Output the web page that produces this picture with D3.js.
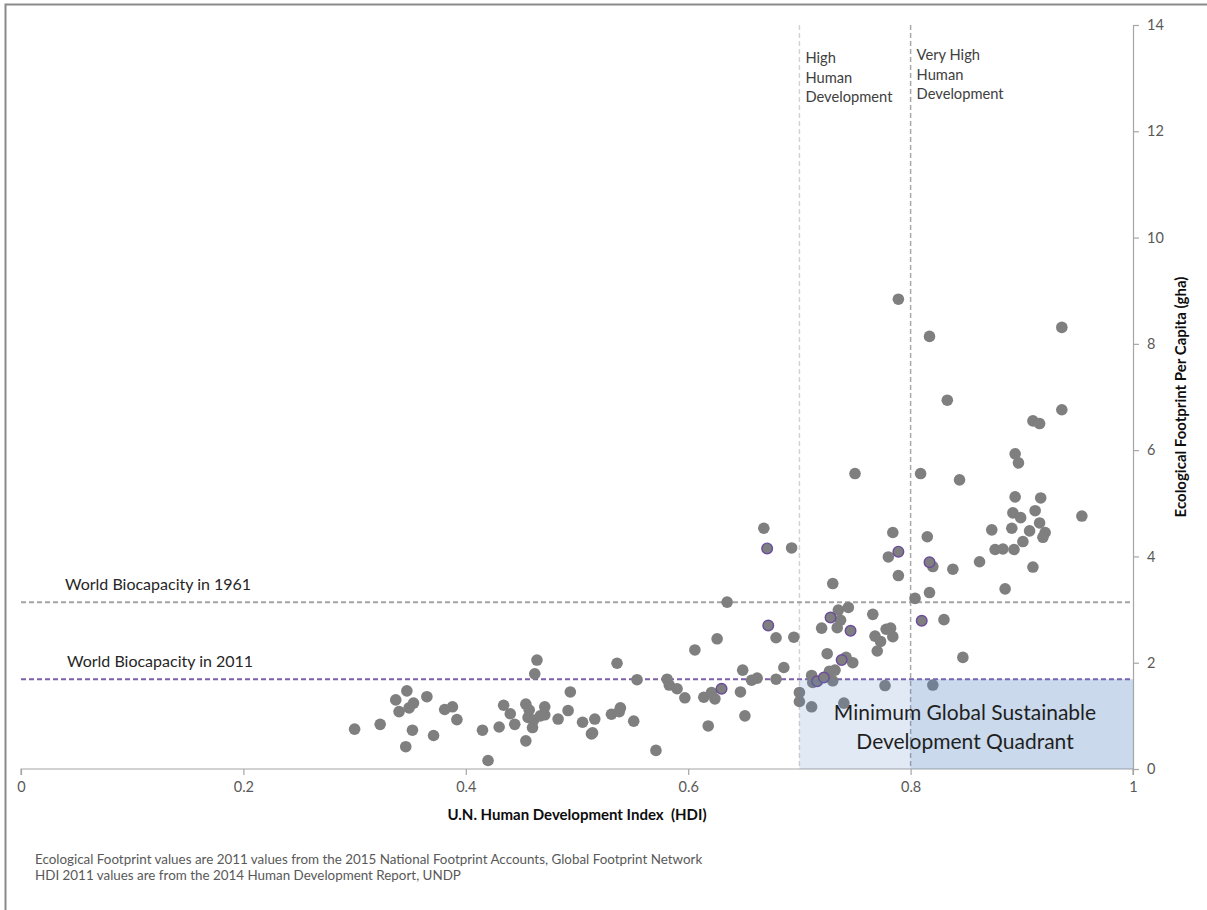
<!DOCTYPE html>
<html>
<head>
<meta charset="utf-8">
<script src="https://cdn.jsdelivr.net/npm/d3@7"></script>
<style>
  body { margin: 0; background: #fff; }
  svg { display: block; font-family: Lato, "Open Sans", sans-serif; }
</style>
</head>
<body>
<svg id="chart" width="1207" height="910"></svg>
<script>
// ---- Data ----
const hdi = [
  0.300,0.323,0.337,0.347,0.340,0.349,0.353,0.352,0.346,0.365,
  0.371,0.381,0.388,0.392,0.415,0.420,0.430,0.434,0.440,0.444,
  0.454,0.457,0.456,0.454,0.460,0.461,0.462,0.464,0.471,0.471,
  0.467,0.483,0.492,0.494,0.505,0.513,0.514,0.516,0.531,0.539,
  0.538,0.536,0.551,0.554,0.571,0.581,0.583,0.590,0.597,0.606,
  0.668,0.693,0.635,0.679,0.695,0.626,0.614,0.621,0.624,0.647,
  0.649,0.657,0.662,0.679,0.686,0.651,0.618,0.700,0.700,0.711,
  0.711,0.730,0.732,0.727,0.725,0.720,0.735,0.744,0.734,0.737,
  0.748,0.730,0.766,0.740,0.712,0.742,
  0.789,0.817,0.936,0.833,0.936,0.910,0.916,0.894,0.897,0.750,
  0.809,0.844,0.894,0.917,0.912,0.892,0.899,0.954,0.873,0.891,
  0.907,0.916,0.921,0.919,0.901,0.876,0.883,0.893,0.862,0.910,
  0.885,0.838,0.815,0.820,0.784,0.780,0.789,0.804,0.817,0.830,
  0.847,0.768,0.773,0.778,0.782,0.784,0.770,0.777,0.820
];
const footprint = [
  0.75,0.84,1.30,1.47,1.08,1.15,1.24,0.73,0.42,1.36,
  0.63,1.12,1.17,0.93,0.73,0.16,0.79,1.20,1.04,0.84,
  1.22,1.11,0.97,0.53,0.78,0.92,1.79,2.05,1.17,1.02,
  1.00,0.94,1.10,1.45,0.88,0.66,0.68,0.94,1.03,1.15,
  1.08,1.99,0.90,1.68,0.35,1.69,1.58,1.51,1.34,2.24,
  4.53,4.16,3.14,2.47,2.48,2.45,1.35,1.44,1.32,1.45,
  1.86,1.67,1.71,1.69,1.91,1.00,0.81,1.44,1.27,1.17,
  1.76,1.66,1.86,1.84,2.17,2.65,2.99,3.04,2.66,2.80,
  2.00,3.49,2.91,1.24,1.63,2.10,
  8.84,8.14,8.31,6.94,6.76,6.55,6.50,5.93,5.76,5.56,
  5.56,5.44,5.12,5.10,4.86,4.82,4.73,4.76,4.50,4.53,
  4.48,4.63,4.45,4.36,4.28,4.13,4.14,4.13,3.90,3.80,
  3.39,3.76,4.37,3.81,4.45,3.99,3.64,3.21,3.32,2.81,
  2.10,2.50,2.40,2.63,2.65,2.49,2.22,1.57,1.58
];
// Points drawn with a purple outline
const hdiHighlight = [0.671,0.672,0.630,0.716,0.722,0.728,0.746,0.738,0.789,0.817,0.810];
const footprintHighlight = [4.15,2.70,1.51,1.65,1.72,2.85,2.60,2.05,4.09,3.89,2.79];

const biocapacityLabels = ["World Biocapacity in 1961", "World Biocapacity in 2011"];
const biocapacityValues = [3.14, 1.69];
const hdiThresholds = [0.7, 0.8];
const thresholdLabels = [["High","Human","Development"], ["Very High","Human","Development"]];
const xTicks = [0, 0.2, 0.4, 0.6, 0.8, 1];
const yTicks = [0, 2, 4, 6, 8, 10, 12, 14];
const quadrantLabel = ["Minimum Global Sustainable", "Development Quadrant"];
const xTitle = "U.N. Human Development Index  (HDI)";
const yTitle = "Ecological Footprint Per Capita (gha)";
const notes = [
  "Ecological Footprint values are 2011 values from the 2015 National Footprint Accounts, Global Footprint Network",
  "HDI 2011 values are from the 2014 Human Development Report, UNDP"
];

// ---- Chart ----
const svg = d3.select("#chart");
const x = d3.scaleLinear().domain([0, 1]).range([21, 1133]);
const y = d3.scaleLinear().domain([0, 14]).range([769, 25]);

// outer frame (top and left)
svg.append("path")
  .attr("d", "M5.5,910 V4.5 H1207")
  .attr("fill", "none").attr("stroke", "#8a8a8a").attr("stroke-width", 2);

// vertical threshold lines
const vColors = ["#d4d4d4", "#a8a8a8"];
svg.selectAll(".vline").data(hdiThresholds).enter().append("line")
  .attr("x1", d => x(d)).attr("x2", d => x(d))
  .attr("y1", y(14)).attr("y2", y(0))
  .attr("stroke", (d, i) => vColors[i]).attr("stroke-width", 1.5)
  .attr("stroke-dasharray", "5,3");

// horizontal biocapacity lines
const hColors = ["#a3a3a3", "#7e5fa8"];
svg.selectAll(".hline").data(biocapacityValues).enter().append("line")
  .attr("x1", x(0)).attr("x2", x(1))
  .attr("y1", d => y(d)).attr("y2", d => y(d))
  .attr("stroke", (d, i) => hColors[i]).attr("stroke-width", 2)
  .attr("stroke-dasharray", "5,3");

// axes
const xAxis = svg.append("g").attr("transform", `translate(0,${y(0)})`)
  .call(d3.axisBottom(x).tickValues(xTicks).tickSize(6).tickPadding(7)
    .tickFormat(d => d === 0 || d === 1 ? d3.format("d")(d) : d3.format(".1f")(d)));
const yAxis = svg.append("g").attr("transform", `translate(${x(1)},0)`)
  .call(d3.axisRight(y).tickValues(yTicks).tickSize(6).tickPadding(8).tickFormat(d3.format("d")));
[xAxis, yAxis].forEach(g => {
  g.select(".domain").attr("stroke", "#a6a6a6").attr("stroke-width", 1.2);
  g.selectAll(".tick line").attr("stroke", "#a6a6a6").attr("stroke-width", 1.2);
  g.selectAll(".tick text").attr("fill", "#595959").style("font-size", "14.5px")
    .style("font-family", "Lato, 'Open Sans', sans-serif");
});
xAxis.select(".domain").attr("d", `M${x(0)},6V0H${x(1)}V6`);

// points
svg.append("g").selectAll("circle").data(hdi).enter().append("circle")
  .attr("cx", d => x(d)).attr("cy", (d, i) => y(footprint[i]))
  .attr("r", 5.8).attr("fill", "#7f7f7f");
svg.append("g").selectAll("circle").data(hdiHighlight).enter().append("circle")
  .attr("cx", d => x(d)).attr("cy", (d, i) => y(footprintHighlight[i]))
  .attr("r", 5.3).attr("fill", "#7f7f7f")
  .attr("stroke", "#6a4c9c").attr("stroke-width", 1.4);

// sustainable quadrant (semi-transparent overlay)
svg.append("rect")
  .attr("x", x(hdiThresholds[0])).attr("width", x(1) - x(hdiThresholds[0]))
  .attr("y", y(biocapacityValues[1])).attr("height", y(0) - y(biocapacityValues[1]))
  .attr("fill", "#5a87c0").attr("fill-opacity", 0.18);
svg.append("rect")
  .attr("x", x(hdiThresholds[1])).attr("width", x(1) - x(hdiThresholds[1]))
  .attr("y", y(biocapacityValues[1])).attr("height", y(0) - y(biocapacityValues[1]))
  .attr("fill", "#5a87c0").attr("fill-opacity", 0.16);

// quadrant label
svg.append("text").attr("x", 965).attr("y", 720)
  .attr("text-anchor", "middle").attr("fill", "#1f1f1f").style("font-size", "21px")
  .selectAll("tspan").data(quadrantLabel).enter().append("tspan")
  .attr("x", 965).attr("dy", (d, i) => i === 0 ? 0 : 29).text(d => d);

// biocapacity labels
const bioLabelX = [65, 67];
svg.selectAll(".biolabel").data(biocapacityLabels).enter().append("text")
  .attr("x", (d, i) => bioLabelX[i]).attr("y", (d, i) => y(biocapacityValues[i]) - 12)
  .attr("fill", "#262626").style("font-size", "16px").text(d => d);

// threshold labels
const thrOffsetY = [63, 60];
thresholdLabels.forEach((lines, i) => {
  svg.append("text").attr("fill", "#404040").style("font-size", "14.7px")
    .selectAll("tspan").data(lines).enter().append("tspan")
    .attr("x", x(hdiThresholds[i]) + 6)
    .attr("y", (d, j) => thrOffsetY[i] + j * 19.5).text(d => d);
});

// axis titles
svg.append("text").attr("x", 577).attr("y", 820).attr("text-anchor", "middle")
  .style("white-space", "pre")
  .attr("fill", "#0d0d0d").style("font-size", "15px").style("font-weight", "bold").text(xTitle);
svg.append("text").attr("transform", "translate(1186,397) rotate(-90)").attr("text-anchor", "middle")
  .attr("fill", "#0d0d0d").style("font-size", "15px").style("font-weight", "bold").text(yTitle);

// notes
svg.selectAll(".note").data(notes).enter().append("text")
  .attr("x", 35).attr("y", (d, i) => 864 + i * 16)
  .attr("fill", "#595959").style("font-size", "13.4px").text(d => d);
</script>
</body>
</html>
